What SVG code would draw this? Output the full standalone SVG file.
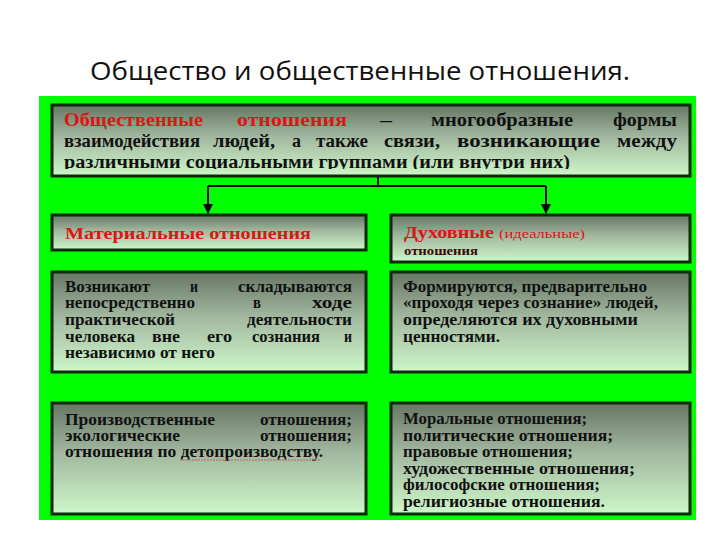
<svg xmlns="http://www.w3.org/2000/svg" width="720" height="540" viewBox="0 0 720 540">
<defs>
<linearGradient id="g" x1="0" y1="0" x2="0" y2="1">
<stop offset="0" stop-color="#667664"/>
<stop offset="0.45" stop-color="#a2b89f"/>
<stop offset="1" stop-color="#cdf7c9"/>
</linearGradient>
<marker id="arr" viewBox="0 0 10 10" refX="9" refY="5" markerWidth="5" markerHeight="5" orient="auto">
<path d="M0,0 L10,5 L0,10 z" fill="#000"/>
</marker>
<clipPath id="topclip"><rect x="52" y="105" width="638" height="64"/></clipPath>
</defs>
<style>
.box { fill: url(#g); stroke: #0d2a0d; stroke-width: 3; }
.t { font-family: "Liberation Serif", "Times New Roman", serif; font-weight: bold; font-size: 16px; fill: #111; }
.h { font-size: 18px; }
.red { fill: #dd1515; }
.title { font-family: "Open Sans", "Noto Sans", sans-serif; font-size: 26px; fill: #111; text-anchor: middle; }
.conn { stroke: #000; stroke-width: 2; fill: none; }
</style>
<rect width="720" height="540" fill="#fff"/>
<text class="title" x="360" y="80" textLength="540" lengthAdjust="spacingAndGlyphs">Общество и общественные отношения.</text>
<rect x="39" y="96" width="657" height="424" fill="#00ff00"/>

<g id="connectors">
<line class="conn" x1="378" y1="176" x2="378" y2="186"/>
<line class="conn" x1="208" y1="186" x2="546" y2="186"/>
<line class="conn" x1="208" y1="186" x2="208" y2="213" marker-end="url(#arr)"/>
<line class="conn" x1="546" y1="186" x2="546" y2="213" marker-end="url(#arr)"/>
</g>

<g id="definition">
<rect class="box" x="52" y="105" width="638" height="71"/>
<g clip-path="url(#topclip)">
<text class="t h red" x="64" y="126" textLength="139" lengthAdjust="spacingAndGlyphs">Общественные</text>
<text class="t h red" x="237" y="126" textLength="110" lengthAdjust="spacingAndGlyphs">отношения</text>
<text class="t h" x="380" y="126" textLength="12" lengthAdjust="spacingAndGlyphs">–</text>
<text class="t h" x="431" y="126" textLength="142" lengthAdjust="spacingAndGlyphs">многообразные</text>
<text class="t h" x="613" y="126" textLength="64" lengthAdjust="spacingAndGlyphs">формы</text>
<text class="t h" x="64" y="147" textLength="136" lengthAdjust="spacingAndGlyphs">взаимодействия</text>
<text class="t h" x="213" y="147" textLength="62" lengthAdjust="spacingAndGlyphs">людей,</text>
<text class="t h" x="292" y="147" textLength="9" lengthAdjust="spacingAndGlyphs">а</text>
<text class="t h" x="316" y="147" textLength="52" lengthAdjust="spacingAndGlyphs">также</text>
<text class="t h" x="384" y="147" textLength="56" lengthAdjust="spacingAndGlyphs">связи,</text>
<text class="t h" x="457" y="147" textLength="143" lengthAdjust="spacingAndGlyphs">возникающие</text>
<text class="t h" x="617" y="147" textLength="60" lengthAdjust="spacingAndGlyphs">между</text>
<text class="t h" x="64" y="168" textLength="506" lengthAdjust="spacingAndGlyphs">различными социальными группами (или внутри них)</text>
</g>
</g>

<g id="material">
<rect class="box" x="52" y="215" width="314" height="35"/>
<text class="t red" x="65" y="239" style="font-size:17px" textLength="246" lengthAdjust="spacingAndGlyphs">Материальные отношения</text>
</g>

<g id="spiritual">
<rect class="box" x="391" y="215" width="299" height="47"/>
<text class="t red" x="404" y="238" style="font-size:17px" textLength="90" lengthAdjust="spacingAndGlyphs">Духовные</text>
<text class="t red" x="499" y="238" style="font-size:13px;font-weight:normal" textLength="86" lengthAdjust="spacingAndGlyphs">(идеальные)</text>
<text class="t" x="404" y="255" style="font-size:12px;fill:#3a0a0a" textLength="74" lengthAdjust="spacingAndGlyphs">отношения</text>
</g>

<g id="material-desc">
<rect class="box" x="52" y="272" width="314" height="100"/>
<text class="t" x="65" y="292" textLength="85" lengthAdjust="spacingAndGlyphs">Возникают</text>
<text class="t" x="190" y="292" textLength="8" lengthAdjust="spacingAndGlyphs">и</text>
<text class="t" x="238" y="292" textLength="114" lengthAdjust="spacingAndGlyphs">складываются</text>
<text class="t" x="65" y="308" textLength="130" lengthAdjust="spacingAndGlyphs">непосредственно</text>
<text class="t" x="253" y="308" textLength="8" lengthAdjust="spacingAndGlyphs">в</text>
<text class="t" x="312" y="308" textLength="40" lengthAdjust="spacingAndGlyphs">ходе</text>
<text class="t" x="65" y="325" textLength="110" lengthAdjust="spacingAndGlyphs">практической</text>
<text class="t" x="247" y="325" textLength="105" lengthAdjust="spacingAndGlyphs">деятельности</text>
<text class="t" x="65" y="342" textLength="70" lengthAdjust="spacingAndGlyphs">человека</text>
<text class="t" x="152" y="342" textLength="28" lengthAdjust="spacingAndGlyphs">вне</text>
<text class="t" x="207" y="342" textLength="25" lengthAdjust="spacingAndGlyphs">его</text>
<text class="t" x="252" y="342" textLength="68" lengthAdjust="spacingAndGlyphs">сознания</text>
<text class="t" x="344" y="342" textLength="8" lengthAdjust="spacingAndGlyphs">и</text>
<text class="t" x="65" y="358" textLength="150" lengthAdjust="spacingAndGlyphs">независимо от него</text>
</g>

<g id="spiritual-desc">
<rect class="box" x="391" y="272" width="299" height="100"/>
<text class="t" x="403" y="292" textLength="244" lengthAdjust="spacingAndGlyphs">Формируются, предварительно</text>
<text class="t" x="403" y="308" textLength="255" lengthAdjust="spacingAndGlyphs">«проходя через сознание» людей,</text>
<text class="t" x="403" y="325" textLength="235" lengthAdjust="spacingAndGlyphs">определяются их духовными</text>
<text class="t" x="403" y="342" textLength="97" lengthAdjust="spacingAndGlyphs">ценностями.</text>
</g>

<g id="material-types">
<rect class="box" x="52" y="403" width="314" height="111"/>
<text class="t" x="65" y="425" textLength="150" lengthAdjust="spacingAndGlyphs">Производственные</text>
<text class="t" x="260" y="425" textLength="92" lengthAdjust="spacingAndGlyphs">отношения;</text>
<text class="t" x="65" y="441" textLength="115" lengthAdjust="spacingAndGlyphs">экологические</text>
<text class="t" x="260" y="441" textLength="92" lengthAdjust="spacingAndGlyphs">отношения;</text>
<text class="t" x="65" y="457" textLength="258" lengthAdjust="spacingAndGlyphs">отношения по детопроизводству.</text>
<line x1="180" y1="460" x2="320" y2="460" stroke="#c06060" stroke-width="1" stroke-dasharray="2,1"/>
</g>

<g id="spiritual-types">
<rect class="box" x="391" y="403" width="299" height="111"/>
<text class="t" x="403" y="424" textLength="184" lengthAdjust="spacingAndGlyphs">Моральные отношения;</text>
<text class="t" x="403" y="441" textLength="210" lengthAdjust="spacingAndGlyphs">политические отношения;</text>
<text class="t" x="403" y="457" textLength="170" lengthAdjust="spacingAndGlyphs">правовые отношения;</text>
<text class="t" x="403" y="474" textLength="232" lengthAdjust="spacingAndGlyphs">художественные отношения;</text>
<text class="t" x="403" y="490" textLength="197" lengthAdjust="spacingAndGlyphs">философские отношения;</text>
<text class="t" x="403" y="507" textLength="202" lengthAdjust="spacingAndGlyphs">религиозные отношения.</text>
</g>
</svg>
